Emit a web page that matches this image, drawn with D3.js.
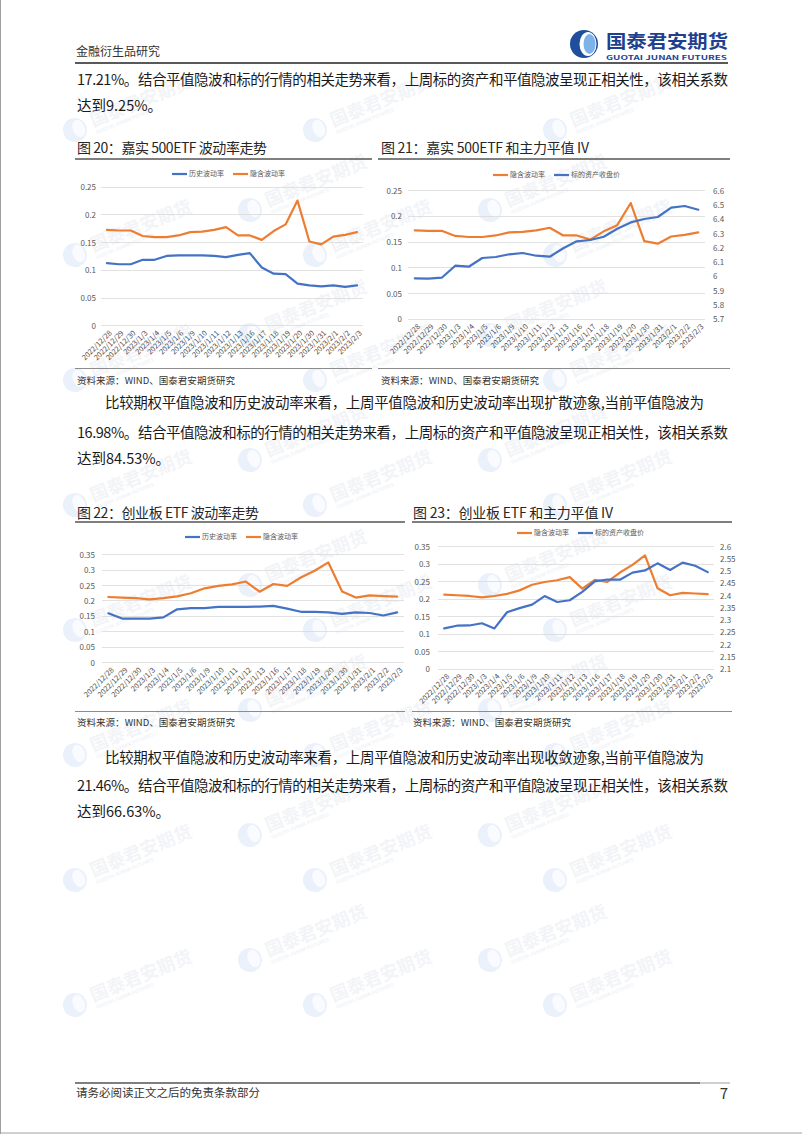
<!DOCTYPE html>
<html>
<head>
<meta charset="utf-8">
<style>
* { margin: 0; padding: 0; }
body { background: #fff; width: 802px; height: 1134px; overflow: hidden; }
text { font-family: "Noto Sans CJK SC", "Noto Sans", sans-serif; }
.grid line { stroke: #d9d9d9; stroke-width: 0.8; shape-rendering: crispEdges; }
.axis text { fill: #595959; font-size: 8px; }
.axis.x text { font-size: 7.4px; fill: #4d4d4d; }
.legend text { fill: #595959; font-size: 7px; }
.para { fill: #1a1a1a; font-size: 14.5px; }
.title { fill: #262626; font-size: 14px; }
.source { fill: #333; font-size: 9.5px; }
.wm text { font-weight: bold; }
</style>
</head>
<body>
<svg id="page" width="802" height="1134"></svg>
<script src="https://d3js.org/d3.v7.min.js"></script>
<script>
// ---- data ----
const dates = ["2022/12/28","2022/12/29","2022/12/30","2023/1/3","2023/1/4","2023/1/5","2023/1/6",
  "2023/1/9","2023/1/10","2023/1/11","2023/1/12","2023/1/13","2023/1/16","2023/1/17","2023/1/18",
  "2023/1/19","2023/1/20","2023/1/30","2023/1/31","2023/2/1","2023/2/2","2023/2/3"];

// 嘉实500ETF
const hv500 = [0.113,0.111,0.111,0.119,0.119,0.126,0.127,0.127,0.127,0.126,0.124,0.128,0.131,0.105,0.094,0.093,0.076,0.073,0.071,0.073,0.070,0.073];
const iv500 = [0.173,0.172,0.172,0.162,0.160,0.160,0.163,0.169,0.170,0.173,0.178,0.163,0.163,0.155,0.171,0.183,0.226,0.152,0.147,0.161,0.164,0.169];
const px500 = [5.987,5.985,5.991,6.075,6.068,6.129,6.136,6.155,6.164,6.145,6.138,6.197,6.246,6.255,6.278,6.334,6.378,6.402,6.416,6.481,6.493,6.467];

// 创业板ETF
const hvCyb = [0.160,0.143,0.143,0.143,0.147,0.173,0.177,0.177,0.181,0.181,0.181,0.182,0.184,0.175,0.165,0.165,0.163,0.158,0.163,0.161,0.153,0.163];
const ivCyb = [0.213,0.211,0.209,0.205,0.209,0.215,0.225,0.241,0.249,0.254,0.263,0.230,0.255,0.249,0.276,0.298,0.325,0.231,0.211,0.218,0.216,0.214];
const pxCyb = [2.266,2.277,2.278,2.287,2.266,2.332,2.349,2.363,2.398,2.374,2.381,2.415,2.458,2.466,2.465,2.494,2.503,2.532,2.505,2.535,2.522,2.496];

const volTicks500 = [0,0.05,0.1,0.15,0.2,0.25];
const pxTicks500 = [5.7,5.8,5.9,6,6.1,6.2,6.3,6.4,6.5,6.6];
const volTicksCyb = [0,0.05,0.1,0.15,0.2,0.25,0.3,0.35];
const pxTicksCyb = [2.1,2.15,2.2,2.25,2.3,2.35,2.4,2.45,2.5,2.55,2.6];

const HV = "历史波动率", IV = "隐含波动率", PX = "标的资产收盘价";

const para1 = ["17.21%。结合平值隐波和标的行情的相关走势来看，上周标的资产和平值隐波呈现正相关性，该相关系数", "达到9.25%。"];
const para2 = ["比较期权平值隐波和历史波动率来看，上周平值隐波和历史波动率出现扩散迹象,当前平值隐波为",
  "16.98%。结合平值隐波和标的行情的相关走势来看，上周标的资产和平值隐波呈现正相关性，该相关系数", "达到84.53%。"];
const para3 = ["比较期权平值隐波和历史波动率来看，上周平值隐波和历史波动率出现收敛迹象,当前平值隐波为",
  "21.46%。结合平值隐波和标的行情的相关走势来看，上周标的资产和平值隐波呈现正相关性，该相关系数", "达到66.63%。"];

const titles = ["图 20：嘉实 500ETF 波动率走势", "图 21：嘉实 500ETF 和主力平值 IV",
  "图 22：创业板 ETF 波动率走势", "图 23：创业板 ETF 和主力平值 IV"];
const sourceText = "资料来源：WIND、国泰君安期货研究";

const blue = "#4472c4", orange = "#ed7d31";

const svg = d3.select("#page");

// ---- watermark (faint, kept inside the page) ----
const wm = svg.append("g").attr("class", "wm");
for (let base = 85; base < 1134; base += 125) {
  [[250, 0], [75, 45]].forEach(([x0, dy]) => {
    for (let x = x0; x < 680; x += 240) {
      const y = base + dy;
      if (y < 100 || y > 1060) continue;
      const g = wm.append("g").attr("transform", `translate(${x},${y}) rotate(-22)`);
      g.append("circle").attr("r", 12).attr("fill", "#d8e6f5").attr("opacity", 0.55);
      g.append("ellipse").attr("cx", 4).attr("rx", 6).attr("ry", 9).attr("fill", "#fff").attr("opacity", 0.7);
      g.append("text").attr("x", 18).attr("y", 4).attr("font-size", 18).attr("fill", "#d5dce6").attr("opacity", 0.3).text("国泰君安期货");
      g.append("text").attr("x", 19).attr("y", 12).attr("font-size", 5).attr("fill", "#d5dce6").attr("opacity", 0.35).text("GUOTAI JUNAN FUTURES");
    }
  });
}

// ---- page frame ----
svg.append("line").attr("x1", 0.5).attr("x2", 0.5).attr("y1", 0).attr("y2", 1134).attr("stroke", "#a0a0a0");
svg.append("line").attr("x1", 0).attr("x2", 802).attr("y1", 1133).attr("y2", 1133).attr("stroke", "#a0a0a0");

// header
svg.append("text").attr("x", 76).attr("y", 56).attr("font-size", 12).attr("fill", "#333").text("金融衍生品研究");
svg.append("line").attr("x1", 75).attr("x2", 728).attr("y1", 63).attr("y2", 63).attr("stroke", "#222").attr("stroke-width", 1.3);
const logo = svg.append("g").attr("transform", "translate(584,44)");
logo.append("circle").attr("r", 14).attr("fill", "#1f4e9c");
logo.append("ellipse").attr("cx", 4).attr("rx", 8.5).attr("ry", 12).attr("fill", "#fff");
logo.append("ellipse").attr("cx", 5.5).attr("rx", 6).attr("ry", 10).attr("fill", "#7db3e8");
svg.append("text").attr("x", 606).attr("y", 48).attr("font-size", 18).attr("font-weight", "bold")
  .attr("fill", "#1f3f8f").attr("textLength", 122).attr("lengthAdjust", "spacingAndGlyphs").text("国泰君安期货");
svg.append("text").attr("x", 606).attr("y", 59.5).attr("font-size", 6).attr("font-weight", "bold")
  .attr("fill", "#1f3f8f").attr("textLength", 121).attr("lengthAdjust", "spacingAndGlyphs").text("GUOTAI JUNAN FUTURES");

// paragraphs
function paragraph(lines, ys, indent) {
  lines.forEach((t, i) => {
    const x = i === 0 && indent ? 105 : 77;
    const full = i < lines.length - 1;
    const el = svg.append("text").attr("class", "para").attr("x", x).attr("y", ys[i]).text(t);
    if (full) el.attr("textLength", (i === 0 && indent ? 704 : 728) - x).attr("lengthAdjust", "spacing");
  });
}
paragraph(para1, [85, 111], false);
paragraph(para2, [408, 438, 464], true);
paragraph(para3, [763, 791, 817], true);

// titles, rules, sources
const blocks = [
  {tx: 77, ty: 153, tw: 190, rule: [75, 372], ry: 159, sy: 368.5, sty: 383.5},
  {tx: 381, ty: 153, tw: 208, rule: [378, 730], ry: 159, sy: 368.5, sty: 383.5},
  {tx: 77, ty: 518, tw: 182, rule: [75, 405], ry: 522, sy: 711.5, sty: 726},
  {tx: 413, ty: 518, tw: 200, rule: [412, 732], ry: 522, sy: 711.5, sty: 726}
];
blocks.forEach((b, i) => {
  svg.append("text").attr("class", "title").attr("x", b.tx).attr("y", b.ty)
    .attr("textLength", b.tw).attr("lengthAdjust", "spacing").text(titles[i]);
  svg.append("line").attr("x1", b.rule[0]).attr("x2", b.rule[1]).attr("y1", b.ry).attr("y2", b.ry)
    .attr("stroke", "#555").attr("stroke-width", 1.6);
  svg.append("line").attr("x1", b.rule[0]).attr("x2", b.rule[1]).attr("y1", b.sy).attr("y2", b.sy)
    .attr("stroke", "#8c8c8c").attr("stroke-width", 1);
  svg.append("text").attr("class", "source").attr("x", b.tx).attr("y", b.sty)
    .attr("textLength", 158).attr("lengthAdjust", "spacing").text(sourceText);
});

// footer
svg.append("line").attr("x1", 75).attr("x2", 700).attr("y1", 1083).attr("y2", 1083).attr("stroke", "#555").attr("stroke-width", 1.6);
svg.append("line").attr("x1", 700).attr("x2", 730).attr("y1", 1083).attr("y2", 1083).attr("stroke", "#888").attr("stroke-width", 0.8);
svg.append("text").attr("x", 76).attr("y", 1097).attr("font-size", 11.5).attr("fill", "#333").text("请务必阅读正文之后的免责条款部分");
svg.append("text").attr("x", 728).attr("y", 1099).attr("font-size", 15).attr("fill", "#333").attr("text-anchor", "end").text("7");

// ---- charts ----
const charts = [
  {left: 101, right: 363, top: 187.3, bottom: 325.7, lx: 96, lTicks: volTicks500,
   series: [{name: HV, values: hv500, color: blue}, {name: IV, values: iv500, color: orange}],
   legendX: 172, legendY: 174},
  {left: 408, right: 705, top: 190.7, bottom: 319.3, lx: 402, rx: 713, lTicks: volTicks500, rTicks: pxTicks500,
   series: [{name: IV, values: iv500, color: orange}, {name: PX, values: px500, color: blue, right: true}],
   legendX: 493, legendY: 175},
  {left: 101.5, right: 404, top: 554.7, bottom: 662.7, lx: 95, lTicks: volTicksCyb,
   series: [{name: HV, values: hvCyb, color: blue}, {name: IV, values: ivCyb, color: orange}],
   legendX: 185, legendY: 537},
  {left: 438, right: 714, top: 546.7, bottom: 669, lx: 430, rx: 720, lTicks: volTicksCyb, rTicks: pxTicksCyb,
   series: [{name: IV, values: ivCyb, color: orange}, {name: PX, values: pxCyb, color: blue, right: true}],
   legendX: 517, legendY: 533}
];

const fmt = d3.format("~g");

charts.forEach(c => {
  const g = svg.append("g");
  const x = d3.scaleBand().domain(dates).range([c.left, c.right]);
  const yL = d3.scaleLinear().domain(d3.extent(c.lTicks)).range([c.bottom, c.top]);
  const yR = c.rTicks ? d3.scaleLinear().domain(d3.extent(c.rTicks)).range([c.bottom, c.top]) : null;

  g.append("g").attr("class", "grid").selectAll("line").data(c.lTicks).join("line")
    .attr("x1", c.left).attr("x2", c.right).attr("y1", d => yL(d)).attr("y2", d => yL(d));

  const axL = g.append("g").attr("class", "axis").attr("transform", `translate(${c.lx},0)`)
    .call(d3.axisLeft(yL).tickValues(c.lTicks).tickSize(0).tickPadding(0).tickFormat(fmt));
  axL.select(".domain").remove();

  if (yR) {
    const axR = g.append("g").attr("class", "axis").attr("transform", `translate(${c.rx},0)`)
      .call(d3.axisRight(yR).tickValues(c.rTicks).tickSize(0).tickPadding(0).tickFormat(fmt));
    axR.select(".domain").remove();
  }

  const axX = g.append("g").attr("class", "axis x").attr("transform", `translate(0,${c.bottom})`)
    .call(d3.axisBottom(x).tickSize(0));
  axX.select(".domain").remove();
  axX.selectAll("text")
    .attr("x", 0).attr("y", 0).attr("dy", "0.35em")
    .attr("text-anchor", "end")
    .attr("transform", `translate(${x.bandwidth() * 0.3},6) rotate(-45)`);

  c.series.forEach(s => {
    const y = s.right ? yR : yL;
    const line = d3.line().x((d, i) => x(dates[i]) + x.bandwidth() / 2).y(d => y(d));
    g.append("path").datum(s.values).attr("d", line)
      .attr("fill", "none").attr("stroke", s.color).attr("stroke-width", 2.2)
      .attr("stroke-linejoin", "round").attr("stroke-linecap", "round");
  });

  const lg = g.append("g").attr("class", "legend");
  let lx = c.legendX;
  c.series.forEach(s => {
    lg.append("line").attr("x1", lx).attr("x2", lx + 15).attr("y1", c.legendY).attr("y2", c.legendY)
      .attr("stroke", s.color).attr("stroke-width", 2.2);
    const t = lg.append("text").attr("x", lx + 17).attr("y", c.legendY).attr("dy", "0.35em").text(s.name);
    lx += 17 + t.node().getComputedTextLength() + 9;
  });
});
</script>
</body>
</html>
